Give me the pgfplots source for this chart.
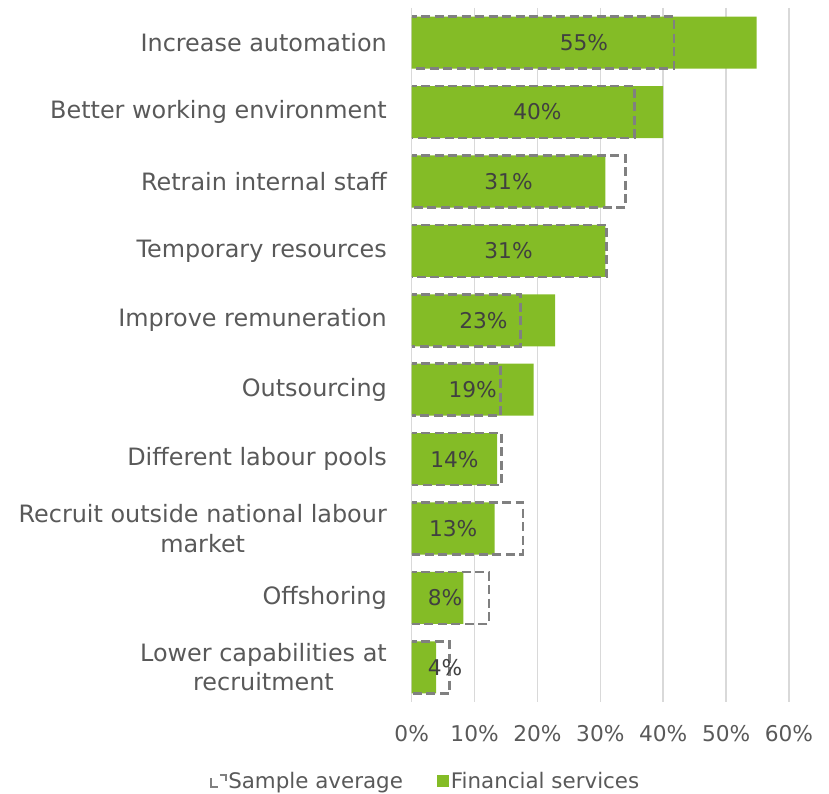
\documentclass[border=0pt]{standalone}
\usepackage{pgfplots}
\usepackage{pgfplotstable}
\pgfplotsset{compat=1.18}
\usepackage{fontspec}
\setmainfont{DejaVu Sans}
\definecolor{fin}{RGB}{132,188,38}
\definecolor{avgc}{RGB}{128,128,128}
\definecolor{gridc}{RGB}{217,217,217}
\definecolor{labc}{RGB}{89,89,89}
\definecolor{valc}{RGB}{64,64,64}

% Financial services values and label positions
\pgfplotstableread{
y fin lx lab
0 54.85 27.4 55
1 40.0 20.0 40
2 30.8 15.4 31
3 30.8 15.4 31
4 22.8 11.4 23
5 19.4 9.7 19
6 13.6 6.8 14
7 13.2 6.6 13
8 8.2 5.3 8
9 3.9 5.3 4
}\data

% Sample average outlines (open on the left, like the reference)
\pgfplotstableread[row sep=\\]{
x y\\
0 -0.375\\ 41.7 -0.375\\ 41.7 0.375\\ 0 0.375\\ nan nan\\
0 0.625\\ 35.4 0.625\\ 35.4 1.375\\ 0 1.375\\ nan nan\\
0 1.625\\ 34.0 1.625\\ 34.0 2.375\\ 0 2.375\\ nan nan\\
0 2.625\\ 31.0 2.625\\ 31.0 3.375\\ 0 3.375\\ nan nan\\
0 3.625\\ 17.3 3.625\\ 17.3 4.375\\ 0 4.375\\ nan nan\\
0 4.625\\ 14.1 4.625\\ 14.1 5.375\\ 0 5.375\\ nan nan\\
0 5.625\\ 14.3 5.625\\ 14.3 6.375\\ 0 6.375\\ nan nan\\
0 6.625\\ 17.7 6.625\\ 17.7 7.375\\ 0 7.375\\ nan nan\\
0 7.625\\ 12.3 7.625\\ 12.3 8.375\\ 0 8.375\\ nan nan\\
0 8.625\\ 6.0 8.625\\ 6.0 9.375\\ 0 9.375\\
}\avgdata

\begin{document}
\begin{tikzpicture}
\begin{axis}[
  scale only axis, width=377.3pt, height=694pt,
  at={(0pt,0pt)}, anchor=south west,
  xmin=0, xmax=60, ymin=-0.5, ymax=9.5, y dir=reverse,
  xtick={0,10,...,60},
  xticklabels={0\%,10\%,20\%,30\%,40\%,50\%,60\%},
  ytick={0,...,9},
  yticklabels={Increase automation, Better working environment, Retrain internal staff, Temporary resources, Improve remuneration, Outsourcing, Different labour pools, {Recruit outside national labour\\market}, Offshoring, {Lower capabilities at\\recruitment}},
  xmajorgrids, ymajorgrids=false,
  grid style={gridc, line width=1.5pt},
  axis line style={draw=none},
  major tick length=0pt,
  unbounded coords=jump,
  /pgf/number format/assume math mode=true,
  xticklabel style={font=\fontsize{21.7}{26}\selectfont, text=labc, inner sep=0pt, anchor=north, yshift=-23pt},
  yticklabel style={font=\fontsize{23.9}{29.5}\selectfont, text=labc, align=center, inner sep=0pt, anchor=east, xshift=-24.7pt},
  legend columns=2,
  legend style={draw=none, fill=none, at={(0.036,-0.114)}, anchor=center,
    font=\fontsize{21.4}{24}\selectfont, text=labc,
    nodes={inner sep=1.5pt},
    /tikz/every even column/.append style={column sep=33pt}},
  clip=false,
]
\addlegendimage{legend image code/.code={
  \draw[avgc, line width=2pt] (0pt,3pt) -- (0pt,-6pt) -- (7pt,-6pt);
  \draw[avgc, line width=2pt] (9pt,6pt) -- (15pt,6pt) -- (15pt,0pt);}}
\addlegendentry{Sample average}
\addplot[xbar, bar width=0.75, bar shift=0pt, fill=fin, draw=none,
  legend image code/.code={\fill[fin] (0pt,-6pt) rectangle (12pt,6pt);}]
  table[x=fin, y=y] {\data};
\addlegendentry{Financial services}
\addplot[draw=none, mark=none, forget plot,
  nodes near coords={\pgfplotspointmeta\%},
  point meta=explicit symbolic,
  nodes near coords align={center},
  every node near coord/.append style={font=\fontsize{21.7}{26}\selectfont, text=valc, inner sep=0pt, anchor=center}]
  table[x=lx, y=y, meta=lab] {\data};
\addplot[draw=avgc, mark=none, line width=2.5pt, dash pattern=on 9pt off 4.5pt, dash phase=4pt, forget plot]
  table[x=x, y=y] {\avgdata};
\end{axis}
\pgfresetboundingbox
\path (-411.7pt,-92pt) rectangle (417.3pt,702pt);
\end{tikzpicture}
\end{document}
